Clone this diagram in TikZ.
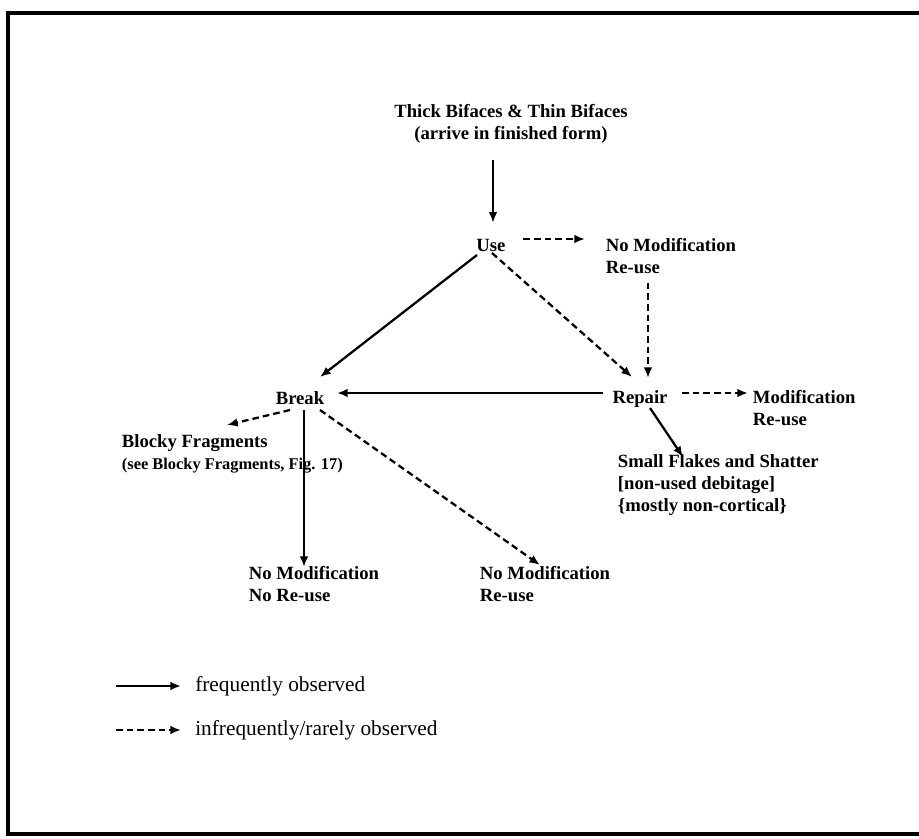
\documentclass[tikz,border=0pt]{standalone}
\usepackage{fontspec}
\setmainfont{Liberation Serif}
\usetikzlibrary{arrows.meta,calc}

\tikzset{
  solidarr/.style={-{Latex[length=8pt,width=6.5pt]},line width=1.7pt},
  dasharr/.style={solidarr,dash pattern=on 5pt off 3pt},
  lbl/.style={font=\bfseries\fontsize{14}{16.5}\selectfont,inner sep=2pt},
  blocktxt/.style={lbl,align=left,anchor=west},
  legendtxt/.style={font=\fontsize{16}{19}\selectfont,anchor=west,inner sep=0pt}
}

\begin{document}
\begin{tikzpicture}[x=0.75pt,y=0.75pt,yscale=-1,xscale=1]
\useasboundingbox (0,0) rectangle (919,838);

%Frame (open at the right)
\draw [line width=3.5pt] (919,13) -- (8,13) -- (8,834) -- (919,834) ;

% Text Node
\node (bifaces) [lbl,align=center] at (511,124) {Thick Bifaces \& Thin Bifaces\\(arrive in finished form)};
% Text Node
\node (use) [lbl] at (491,245) {Use};
% Text Node
\node (nomodA) [blocktxt] at (603,256) {No Modification\\Re-use};
% Text Node
\node (repair) [lbl] at (640,399) {Repair};
% Text Node
\node (modif) [blocktxt] at (750,408) {Modification\\Re-use};
% Text Node
\node (flakes) [blocktxt] at (615,485) {Small Flakes and Shatter\\{[}non-used debitage{]}\\\{mostly non-cortical\}};
% Text Node
\node (brk) [lbl] at (300,398) {Break};
% Text Node
\node (blocky) [blocktxt] at (119,454) {Blocky Fragments\\{\fontsize{12.3}{15}\selectfont (see Blocky Fragments, Fig. 17)}};
% Text Node
\node (nomodB) [blocktxt] at (246,584) {No Modification\\No Re-use};
% Text Node
\node (nomodC) [blocktxt] at (477,584) {No Modification\\Re-use};

%Straight Lines
\draw [solidarr] ($(bifaces.south -| use)+(2,14)$) -- ($(use.north)+(2,-13)$) ;
\draw [dasharr] ($(use.east)+(15,-6)$) -- ($(use.east -| nomodA.west)+(-18,-6)$) ;
\draw [solidarr] ($(use)+(-14,10)$) -- ($(brk)+(20,-21)$) ;
\draw [dasharr] ($(use)+(1,8)$) -- ($(repair)+(-8,-22)$) ;
\draw [dasharr] ($(nomodA.south -| repair)+(8,6)$) -- ($(repair)+(8,-21)$) ;
\draw [solidarr] ($(repair)+(-37,-6)$) -- ($(brk)+(37,-5)$) ;
\draw [dasharr] ($(repair)+(42,-6)$) -- ($(repair -| modif.west)+(-2,-6)$) ;
\draw [solidarr] ($(repair)+(10,9)$) -- ($(flakes.west)+(68,-28)$) ;
\draw [dasharr] ($(brk)+(-10,12)$) -- ($(blocky.west)+(108,-29)$) ;
\draw [solidarr] ($(brk)+(4,12)$) -- ($(nomodB.west)+(58,-17)$) ;
\draw [dasharr] ($(brk)+(20,12)$) -- ($(nomodC.west)+(63,-19)$) ;

%Legend
\coordinate (fs) at (116,686);
\node (freq) [legendtxt] at (195,686) {frequently observed};
\draw [solidarr] (fs) -- ($(freq.west)+(-14,0)$) ;
\coordinate (ds) at (116,730);
\node (infreq) [legendtxt] at (195,730) {infrequently/rarely observed};
\draw [dasharr] (ds) -- ($(infreq.west)+(-14,0)$) ;

\end{tikzpicture}
\end{document}
